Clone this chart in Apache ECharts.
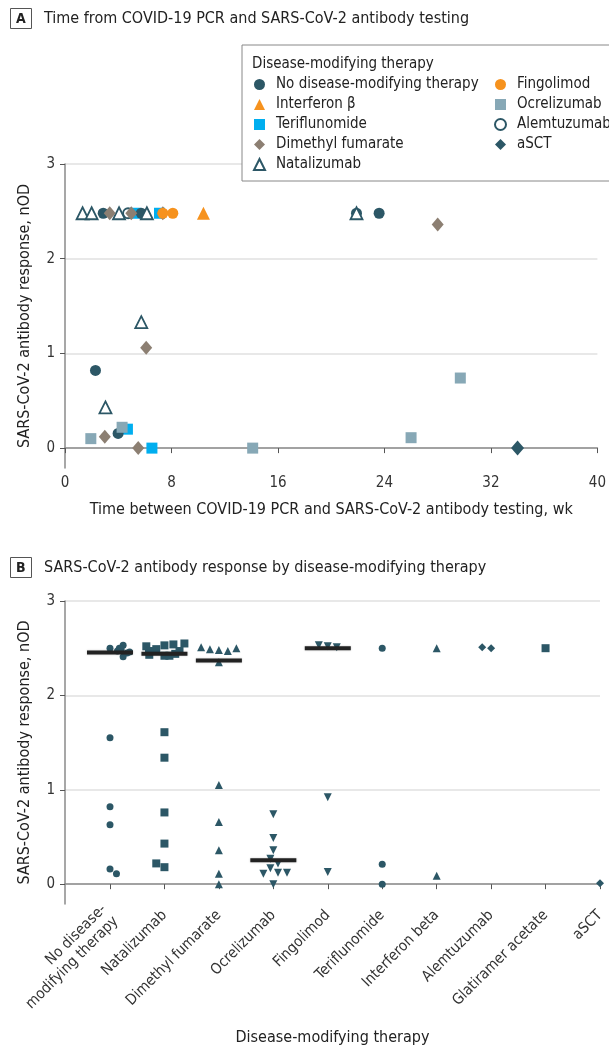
<!DOCTYPE html>
<html>
<head>
<meta charset="utf-8">
<script src="https://cdn.jsdelivr.net/npm/echarts@6/dist/echarts.min.js"></script>
<style>
  html, body { margin: 0; padding: 0; background: #fff; }
  #chart { width: 609px; height: 1049px; }
</style>
</head>
<body>
<div id="chart"></div>
<script>
// ---- panel A: [weeks, nOD] per therapy ----
const aNoDmt = [[2.87, 2.48], [5.73, 2.48], [21.9, 2.48], [23.6, 2.48], [2.29, 0.82], [3.99, 0.155]];
const aInterferon = [[10.4, 2.48]];
const aTeriflunomide = [[5.3, 2.48], [7.1, 2.48], [4.69, 0.2], [6.53, 0]];
const aDmf = [[3.36, 2.48], [4.98, 2.48], [7.35, 2.48], [28.0, 2.36], [6.1, 1.06], [2.99, 0.12], [5.5, 0]];
const aNatalizumab = [[1.32, 2.48], [2.0, 2.48], [4.06, 2.48], [6.15, 2.48], [21.9, 2.48], [5.73, 1.33], [3.04, 0.43]];
const aFingolimod = [[7.35, 2.48], [8.1, 2.48]];
const aOcrelizumab = [[1.94, 0.1], [4.29, 0.22], [14.1, 0], [26.0, 0.11], [29.7, 0.74]];
const aAlemtuzumab = [[4.74, 2.48]];
const aAsct = [[34.0, 0]];
const aTicksY = [0, 1, 2, 3];

// ---- panel B: nOD values per category ----
const bCategories = ['No disease-\nmodifying therapy', 'Natalizumab', 'Dimethyl fumarate', 'Ocrelizumab',
  'Fingolimod', 'Teriflunomide', 'Interferon beta', 'Alemtuzumab', 'Glatiramer acetate', 'aSCT'];
const bNoDmt = [2.50, 2.54, 2.42, 2.47, 2.48, 2.41, 2.53, 2.44, 2.53, 2.46, 2.50, 2.45, 2.49, 1.55, 0.82, 0.63, 0.16, 0.09, 0.11];
const bNatalizumab = [2.53, 2.49, 2.54, 2.42, 2.47, 2.43, 2.52, 2.42, 2.55, 2.47, 2.44, 1.61, 1.34, 0.76, 0.43, 0.18, 0.22];
const bDmf = [2.48, 2.49, 2.47, 2.50, 2.51, 2.35, 1.05, 0.66, 0.36, 0.11, 0];
const bOcrelizumab = [0.74, 0.49, 0.36, 0.27, 0.22, 0.17, 0.12, 0.11, 0.12, 0];
const bFingolimod = [2.52, 2.53, 2.51, 0.92, 0.13];
const bTeriflunomide = [2.50, 0.21, 0];
const bInterferon = [2.50, 0.09];
const bAlemtuzumab = [2.50, 2.51];
const bGlatiramer = [2.50];
const bAsct = [0.01];
const bMedians = [2.455, 2.44, 2.37, 0.254, 2.50];

const FONT = "'Liberation Sans Narrow', 'DejaVu Sans Condensed', sans-serif";
const DARK = '#2c5766';
const ORANGE = '#f6921e';
const CYAN = '#00aeef';
const TAUPE = '#8c7f72';
const STEEL = '#87a8b6';
const AXIS = '#8a8a8a';
const GRID = '#e0e0e0';
const TXT = '#333';

function aSeries(name, data, symbol, size, color, hollow) {
  return {
    name, type: 'scatter', xAxisIndex: 0, yAxisIndex: 0, data,
    symbol, symbolSize: size,
    itemStyle: hollow
      ? { color: '#fff', borderColor: color, borderWidth: 1.8, opacity: 1 }
      : { color, opacity: 1 }
  };
}

function bSeries(idx, values, symbol, size) {
  return {
    name: 'b' + idx, type: 'scatter', xAxisIndex: 2, yAxisIndex: 2,
    data: values.map(v => [bCategories[idx], v]),
    symbol, symbolSize: size, itemStyle: { color: DARK, opacity: 1 }, z: 3
  };
}

const valueLabel = { customValues: aTicksY, color: TXT, fontSize: 15, fontFamily: FONT, margin: 10 };
const legendText = { fontSize: 15, color: '#222', fontFamily: FONT, lineHeight: 15, padding: [0, 0, 0, 6] };

const option = {
  animation: false,
  textStyle: { fontFamily: FONT },
  title: [
    { text: 'A', left: 10, top: 8, padding: [4, 6, 3, 6], borderColor: '#555', borderWidth: 1,
      textStyle: { fontSize: 14, fontWeight: 'bold', color: '#222', fontFamily: FONT } },
    { text: 'Time from COVID-19 PCR and SARS-CoV-2 antibody testing', left: 44, top: 11, padding: 0,
      textStyle: { fontSize: 16, fontWeight: 'normal', color: '#222', fontFamily: FONT } },
    { text: 'Disease-modifying therapy', left: 252, top: 57, padding: 0, z: 10,
      textStyle: { fontSize: 15, fontWeight: 'normal', color: '#222', fontFamily: FONT } },
    { text: 'B', left: 10, top: 557, padding: [4, 6, 3, 6], borderColor: '#555', borderWidth: 1,
      textStyle: { fontSize: 14, fontWeight: 'bold', color: '#222', fontFamily: FONT } },
    { text: 'SARS-CoV-2 antibody response by disease-modifying therapy', left: 44, top: 560, padding: 0,
      textStyle: { fontSize: 16, fontWeight: 'normal', color: '#222', fontFamily: FONT } }
  ],
  legend: [
    {
      data: ['No disease-modifying therapy', 'Interferon β', 'Teriflunomide', 'Dimethyl fumarate', 'Natalizumab'],
      orient: 'vertical', left: 242, top: 45, padding: [32, 200, 9, 11],
      itemWidth: 11, itemHeight: 11, itemGap: 5,
      backgroundColor: '#fff', borderColor: '#888', borderWidth: 1, z: 5,
      textStyle: legendText
    },
    {
      data: ['Fingolimod', 'Ocrelizumab', 'Alemtuzumab', 'aSCT'],
      orient: 'vertical', left: 494, top: 77, padding: 0,
      itemWidth: 11, itemHeight: 11, itemGap: 5, z: 6,
      textStyle: legendText
    }
  ],
  grid: [
    { left: 65, right: 9, top: 164, height: 304 },
    { left: 65, right: 9, top: 601, height: 303 },
    { left: 110, right: 9, top: 601, height: 303 }
  ],
  xAxis: [
    {
      gridIndex: 0, type: 'value', min: 0, max: 40, interval: 8,
      name: 'Time between COVID-19 PCR and SARS-CoV-2 antibody testing, wk',
      nameLocation: 'middle', nameGap: 34,
      nameTextStyle: { fontSize: 16, color: '#222', fontFamily: FONT },
      axisLine: { lineStyle: { color: AXIS, width: 1.5 } },
      axisTick: { lineStyle: { color: '#555' }, length: 5 },
      axisLabel: { color: TXT, fontSize: 15, fontFamily: FONT, margin: 8 },
      splitLine: { show: false }
    },
    {
      gridIndex: 1, type: 'value', min: 0, max: 1,
      name: 'Disease-modifying therapy', nameLocation: 'middle', nameGap: 126,
      nameTextStyle: { fontSize: 16, color: '#222', fontFamily: FONT },
      axisLine: { lineStyle: { color: AXIS, width: 1.5 } },
      axisTick: { show: false }, axisLabel: { show: false }, splitLine: { show: false }
    },
    {
      gridIndex: 2, type: 'category', data: bCategories, boundaryGap: false,
      jitter: 44, jitterOverlap: false, jitterMargin: 1,
      axisLine: { show: false },
      axisTick: { show: true, alignWithLabel: true, length: 5, lineStyle: { color: '#555' } },
      axisLabel: { interval: 0, rotate: 45, color: TXT, fontSize: 15, fontFamily: FONT, margin: 9, lineHeight: 17 },
      splitLine: { show: false }
    },
    {
      gridIndex: 2, type: 'category', data: bCategories, boundaryGap: false, show: false, position: 'top'
    }
  ],
  yAxis: [
    {
      gridIndex: 0, type: 'value', min: -0.21, max: 3,
      name: 'SARS-CoV-2 antibody response, nOD', nameLocation: 'middle', nameGap: 32,
      nameTextStyle: { fontSize: 16, color: '#222', fontFamily: FONT },
      axisLine: { show: true, lineStyle: { color: AXIS, width: 1.5 } },
      axisTick: { show: true, customValues: aTicksY, length: 5, lineStyle: { color: '#555' } },
      axisLabel: valueLabel,
      splitLine: { show: true, lineStyle: { color: GRID, width: 1.5 } }
    },
    {
      gridIndex: 1, type: 'value', min: -0.21, max: 3,
      name: 'SARS-CoV-2 antibody response, nOD', nameLocation: 'middle', nameGap: 32,
      nameTextStyle: { fontSize: 16, color: '#222', fontFamily: FONT },
      axisLine: { show: true, lineStyle: { color: AXIS, width: 1.5 } },
      axisTick: { show: true, customValues: aTicksY, length: 5, lineStyle: { color: '#555' } },
      axisLabel: valueLabel,
      splitLine: { show: true, lineStyle: { color: GRID, width: 1.5 } }
    },
    { gridIndex: 2, type: 'value', min: -0.21, max: 3, show: false, splitLine: { show: false } }
  ],
  series: [
    aSeries('Teriflunomide', aTeriflunomide, 'rect', 11, CYAN),
    aSeries('No disease-modifying therapy', aNoDmt, 'circle', 11, DARK),
    aSeries('Alemtuzumab', aAlemtuzumab, 'circle', 10, DARK, true),
    aSeries('Natalizumab', aNatalizumab, 'triangle', 12, DARK, true),
    aSeries('Dimethyl fumarate', aDmf, 'diamond', [12, 14], TAUPE),
    aSeries('Ocrelizumab', aOcrelizumab, 'rect', 11, STEEL),
    aSeries('Fingolimod', aFingolimod, 'circle', 11, ORANGE),
    aSeries('Interferon β', aInterferon, 'triangle', 13, ORANGE),
    aSeries('aSCT', aAsct, 'diamond', [13, 15], DARK),

    bSeries(0, bNoDmt, 'circle', 7),
    bSeries(1, bNatalizumab, 'rect', 8),
    bSeries(2, bDmf, 'triangle', 8),
    bSeries(3, bOcrelizumab, 'path://M0,0 L10,0 L5,9 Z', 8),
    bSeries(4, bFingolimod, 'path://M0,0 L10,0 L5,9 Z', 8),
    bSeries(5, bTeriflunomide, 'circle', 7),
    bSeries(6, bInterferon, 'triangle', 8),
    bSeries(7, bAlemtuzumab, 'diamond', 8),
    bSeries(8, bGlatiramer, 'rect', 8),
    bSeries(9, bAsct, 'diamond', 8),
    {
      name: 'median', type: 'scatter', xAxisIndex: 3, yAxisIndex: 2,
      data: bMedians.map((v, i) => [bCategories[i], v]),
      symbol: 'rect', symbolSize: [46, 4], z: 4,
      itemStyle: { color: '#222', opacity: 1, shadowColor: 'rgba(0,0,0,0.25)', shadowBlur: 2 }
    }
  ]
};

const chart = echarts.init(document.getElementById('chart'), null, { renderer: 'canvas' });
chart.setOption(option);
</script>
</body>
</html>
